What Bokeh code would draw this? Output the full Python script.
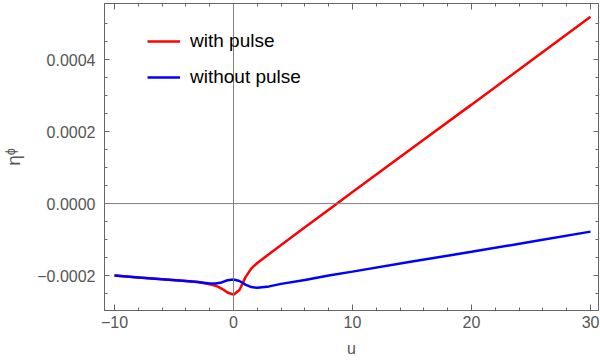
from bokeh.plotting import figure
from bokeh.models import (Range1d, LinearAxis, FixedTicker, CustomJSTickFormatter,
                          Span, Legend, LegendItem)
from bokeh.embed import file_html
from bokeh.resources import INLINE

# data
u = [-10, -8, -6, -4, -3, -2, -1.5, -1, -0.5, 0, 0.5, 1, 1.5, 2, 3, 4, 6, 8, 10, 15, 20, 25, 30]
with_pulse = [-0.000200, -0.000205, -0.000210, -0.000215, -0.000218, -0.000224, -0.000228,
              -0.000236, -0.000247, -0.000253, -0.000240, -0.000205, -0.000180, -0.000165,
              -0.000140, -0.000115, -0.000066, -0.000017, 0.000032, 0.000154, 0.000275,
              0.000397, 0.000519]
without_pulse = [-0.000200, -0.000205, -0.000210, -0.000215, -0.000218, -0.000222, -0.000222,
                 -0.000219, -0.000213, -0.000211, -0.000215, -0.000225, -0.000232, -0.000234,
                 -0.000230, -0.000223, -0.000212, -0.000200, -0.000189, -0.000161, -0.000134,
                 -0.000106, -0.0000778]
x_ticks = [-10, 0, 10, 20, 30]
x_minor = [-8, -6, -4, -2, 2, 4, 6, 8, 12, 14, 16, 18, 22, 24, 26, 28]
y_ticks = [-0.0002, 0.0, 0.0002, 0.0004]
y_minor = [-0.00025, -0.00015, -0.0001, -0.00005, 0.00005, 0.0001, 0.00015,
           0.00025, 0.0003, 0.00035, 0.00045, 0.0005]

GRAY = "#666666"
TICKTXT = "#555555"
FONT = "Liberation Sans"

p = figure(width=600, height=362, output_backend="svg", toolbar_location=None,
           x_range=Range1d(-10.84, 30.67), y_range=Range1d(-0.000297, 0.000556),
           x_axis_location=None, y_axis_location=None,
           min_border_left=102, min_border_right=2, min_border_top=3, min_border_bottom=52)
p.grid.visible = False
p.outline_line_color = GRAY
p.outline_line_width = 1
p.background_fill_color = "white"
p.border_fill_color = "white"

xfmt = CustomJSTickFormatter(code="""
if (Math.abs(tick) < 1e-9) return '0';
return (tick < 0 ? '\\u2212' : '') + Math.abs(tick).toFixed(0);
""")
yfmt = CustomJSTickFormatter(code="""
if (Math.abs(tick) < 1e-12) return '0.0000';
return (tick < 0 ? '\\u2212' : '') + Math.abs(tick).toFixed(4);
""")
blank = CustomJSTickFormatter(code="return '';")

def style(ax, labels=True, length=5):
    ax.axis_line_color = GRAY
    ax.major_tick_line_color = GRAY
    ax.minor_tick_line_color = GRAY
    ax.major_tick_in = length
    ax.major_tick_out = 0
    ax.minor_tick_in = 3
    ax.minor_tick_out = 0
    ax.major_label_text_color = TICKTXT
    ax.major_label_text_font = FONT
    ax.major_label_text_font_size = "16px"
    ax.axis_label_text_color = TICKTXT
    ax.axis_label_text_font = FONT
    ax.axis_label_text_font_size = "16px"
    ax.axis_label_text_font_style = "normal"
    if not labels:
        ax.major_label_standoff = 0
        ax.major_label_text_font_size = "0px"

xt = FixedTicker(ticks=x_ticks, minor_ticks=x_minor)
yt = FixedTicker(ticks=y_ticks, minor_ticks=y_minor)

bottom = LinearAxis(ticker=xt, formatter=xfmt, axis_label="u")
style(bottom, length=6)
bottom.major_label_standoff = 5
bottom.axis_label_standoff = 9
left = LinearAxis(ticker=yt, formatter=yfmt, axis_label="η\u1DB2")
style(left, length=5)
left.major_label_standoff = 9
left.axis_label_standoff = 10
left.axis_label_text_font_size = "19px"
top = LinearAxis(ticker=xt, formatter=blank)
style(top, labels=False, length=6)
right = LinearAxis(ticker=yt, formatter=blank)
style(right, labels=False, length=5)
p.add_layout(bottom, "below")
p.add_layout(left, "left")
p.add_layout(top, "above")
p.add_layout(right, "right")

p.add_layout(Span(location=0, dimension="width", line_color="#808080", line_width=1))
p.add_layout(Span(location=0, dimension="height", line_color="#808080", line_width=1))

r1 = p.line(u, with_pulse, line_color="#ff0000", line_width=2.5)
r2 = p.line(u, without_pulse, line_color="#0000ff", line_width=2.5)

legend = Legend(items=[LegendItem(label="with pulse", renderers=[r1]),
                       LegendItem(label="without pulse", renderers=[r2])],
                location=(43, 222), border_line_alpha=0, background_fill_alpha=0,
                label_text_font=FONT, label_text_font_size="19px", label_text_color="black",
                glyph_width=33, glyph_height=22, label_height=22, label_standoff=10,
                spacing=14, padding=0, margin=0)
p.add_layout(legend)

open("out.html", "w").write(file_html(p, INLINE))
